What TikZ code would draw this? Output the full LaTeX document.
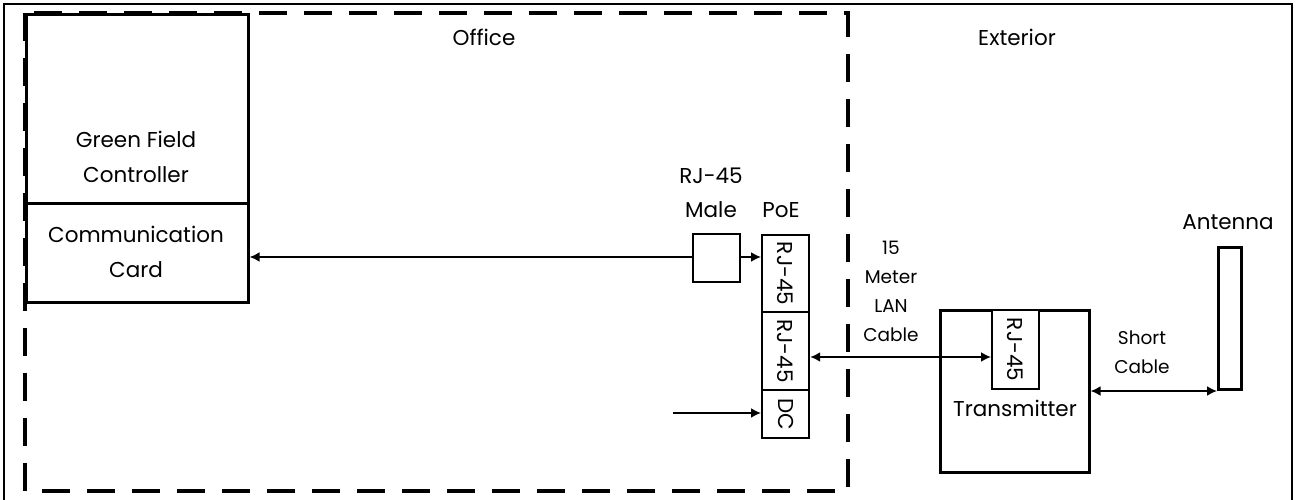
\documentclass[tikz,border=0pt]{standalone}
\usepackage{fontspec}
\setmainfont{Poppins}
\usetikzlibrary{arrows.meta}
\begin{document}
\begin{tikzpicture}[x=1pt,y=-1pt,
  box/.style={draw, line width=2.6pt, fill=white, inner sep=0pt, anchor=north west},
  smallbox/.style={draw, line width=2.2pt, fill=white, inner sep=0pt, anchor=north west},
  lbl/.style={font=\fontsize{21.5}{35}\selectfont, align=center, inner sep=0pt},
  slbl/.style={font=\fontsize{18.5}{29}\selectfont, align=center, inner sep=0pt},
  conn/.style={line width=1.8pt, -{Latex[length=10pt,width=10pt]}},
  dconn/.style={line width=1.8pt, {Latex[length=10pt,width=10pt]}-{Latex[length=10pt,width=10pt]}},
  zone/.style={line width=3.2pt, dash pattern=on 28pt off 17pt}
]
\useasboundingbox (0,0) rectangle (1296,500);
% outer frame
\draw[line width=1.6pt] (4,4) rectangle (1292,503);
% office zone
\draw[zone] (25,13) rectangle (848,491);
\node[lbl] (office) at (484,37) {Office};
\node[lbl] (exterior) at (1017,37) {Exterior};
% controller
\node[box, minimum width=222pt, minimum height=189pt] (gfc) at (25,13) {};
\node[box, minimum width=222pt, minimum height=99pt] (card) at (25,202) {};
\node[lbl] (gfctext) at (136,157) {Green Field\\Controller};
\node[lbl] (cardtext) at (136,252) {Communication\\Card};
% RJ-45 male
\node[smallbox, minimum width=47pt, minimum height=48pt] (male) at (692,233) {};
\node[lbl, font=\fontsize{21.5}{34}\selectfont] (maletext) at (711,193) {RJ-45\\Male};
% PoE
\node[smallbox, minimum width=47pt, minimum height=77pt] (poeA) at (761,234) {};
\node[smallbox, minimum width=47pt, minimum height=78pt] (poeB) at (761,311) {};
\node[smallbox, minimum width=47pt, minimum height=48pt] (poeC) at (761,389) {};
\node[lbl, rotate=-90] (poeAt) at (poeA.center) {RJ-45};
\node[lbl, rotate=-90] (poeBt) at (poeB.center) {RJ-45};
\node[lbl, rotate=-90] (poeCt) at (poeC.center) {DC};
\node[lbl] (poetext) at (781,210) {PoE};
% LAN label
\node[slbl] (lantext) at (891,291) {15\\Meter\\LAN\\Cable};
% transmitter
\node[box, minimum width=149pt, minimum height=162pt] (tx) at (939,309) {};
\node[smallbox, minimum width=47pt, minimum height=79pt] (txrj) at (991,309) {};
\node[lbl, rotate=-90] (txrjt) at (txrj.center) {RJ-45};
\node[lbl] (txtext) at (1015,408) {Transmitter};
% antenna
\node[box, minimum width=23pt, minimum height=142pt] (ant) at (1217,246) {};
\node[lbl] (anttext) at (1228,222) {Antenna};
\node[slbl] (shorttext) at (1142,352) {Short\\Cable};
% connectors
\coordinate (dcin) at (673,413);
\draw[conn] (male.west |- 0,257) -- (card.east |- 0,257);
\draw[conn] (male.east |- 0,257) -- (poeA.west |- 0,257);
\draw[dconn] (poeB.east |- 0,357) -- (txrj.west |- 0,357);
\draw[conn] (dcin) -- (poeC.west |- dcin);
\draw[dconn] (tx.east |- 0,391) -- (ant.west |- 0,391);
\end{tikzpicture}
\end{document}
